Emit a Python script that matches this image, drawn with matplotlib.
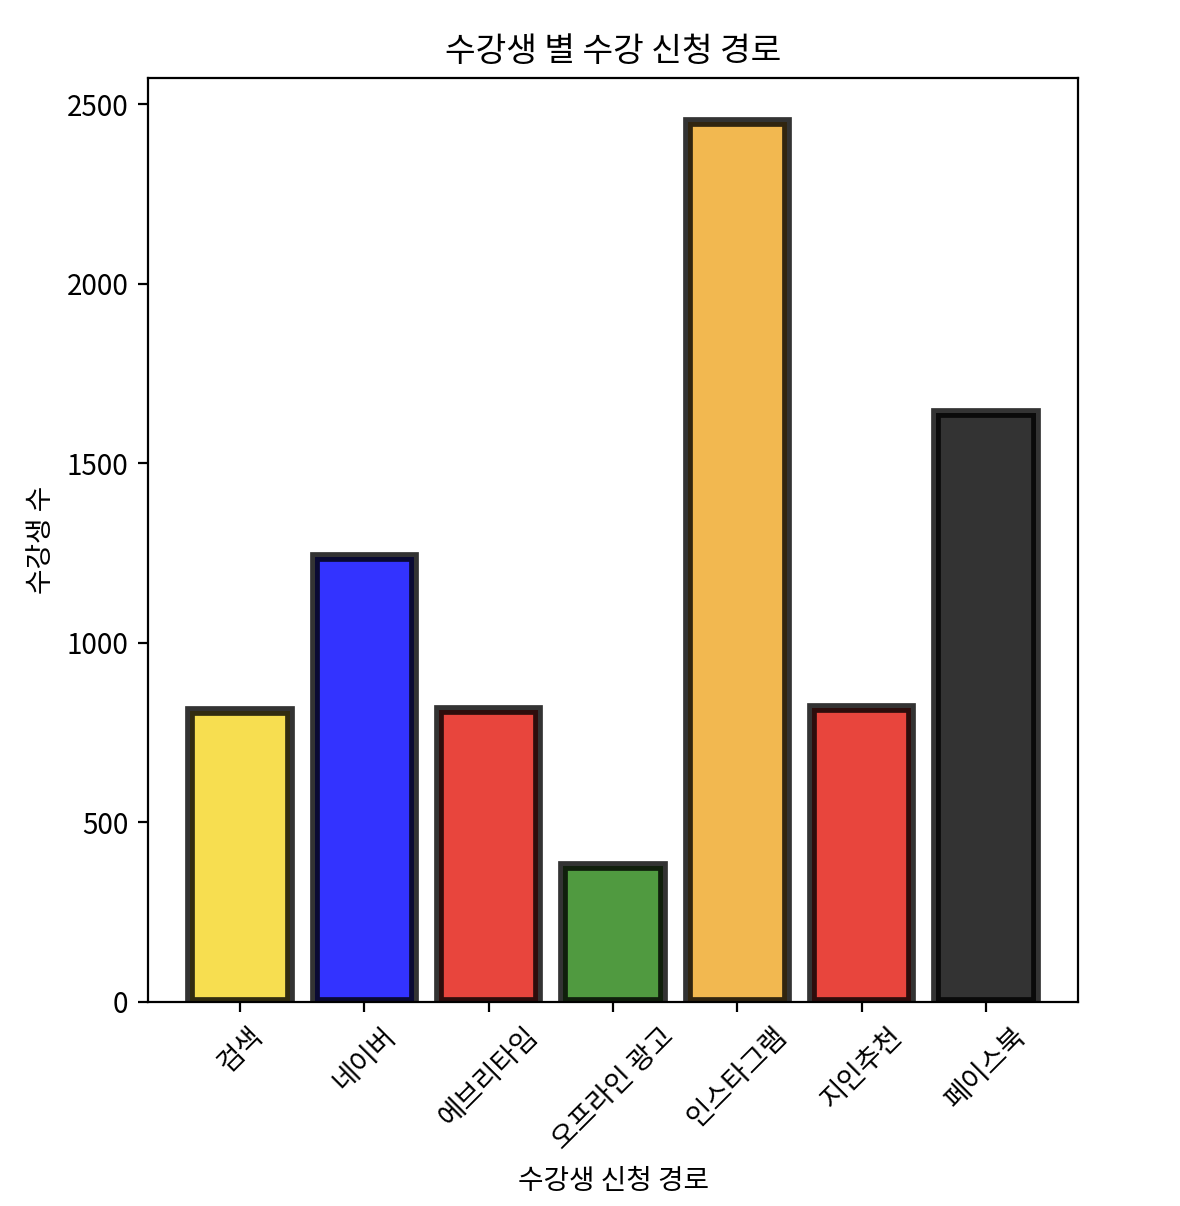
import matplotlib
matplotlib.use('Agg')
import matplotlib.pyplot as plt

plt.rcParams['font.family'] = ['Noto Sans CJK KR', 'DejaVu Sans']
plt.rcParams['axes.unicode_minus'] = False

routes = ['검색', '네이버', '에브리타임', '오프라인 광고', '인스타그램', '지인추천', '페이스북']
counts = [810, 1240, 812, 378, 2450, 818, 1640]
bar_colors = ['#f6d624', 'blue', '#e3160c', '#248110', '#efa624', '#e3160c', 'black']

fig = plt.figure(figsize=(5.9, 6.03), dpi=200)
ax = fig.add_axes([0.1254, 0.1692, 0.7882, 0.7661])

ax.bar(routes, counts, color=bar_colors, edgecolor='black', linewidth=3.5, alpha=0.8)

ax.set_title('수강생 별 수강 신청 경로')
ax.set_xlabel('수강생 신청 경로')
ax.set_ylabel('수강생 수')
plt.xticks(rotation=45)

fig.savefig('out.png')
plt.close(fig)
